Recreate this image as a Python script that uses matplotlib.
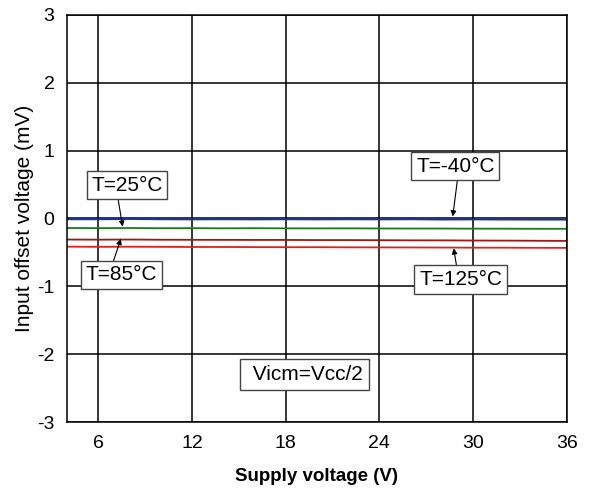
import matplotlib
matplotlib.use("Agg")
import matplotlib.pyplot as plt

plt.rcParams['font.family'] = ['Liberation Sans', 'DejaVu Sans']
plt.rcParams['axes.unicode_minus'] = False

supply_v = [4, 6, 8, 10, 12, 14, 16, 18, 20, 22, 24, 26, 28, 30, 32, 34, 36]
t_m40 = [-0.012, -0.012, -0.008, -0.012, -0.014, -0.012, -0.014, -0.012, -0.014, -0.012, -0.014, -0.012, -0.016, -0.014, -0.016, -0.017, -0.017]
t_25 = [-0.140, -0.142, -0.140, -0.143, -0.142, -0.145, -0.143, -0.145, -0.146, -0.145, -0.147, -0.148, -0.148, -0.150, -0.150, -0.152, -0.152]
t_85 = [-0.310, -0.312, -0.310, -0.313, -0.314, -0.315, -0.316, -0.316, -0.318, -0.318, -0.320, -0.322, -0.322, -0.325, -0.326, -0.328, -0.330]
t_125 = [-0.415, -0.418, -0.416, -0.418, -0.420, -0.420, -0.422, -0.423, -0.423, -0.425, -0.426, -0.427, -0.428, -0.430, -0.430, -0.432, -0.433]

x_ticks = [6, 12, 18, 24, 30, 36]
y_ticks = [-3, -2, -1, 0, 1, 2, 3]

fig = plt.figure(figsize=(5.91, 4.91), dpi=100)
ax = fig.add_axes([0.1134, 0.1405, 0.8456, 0.829])

ax.plot(supply_v, t_m40, color='#1030b8', lw=1.3)
ax.plot(supply_v, t_25, color='#1a7a1a', lw=1.3)
ax.plot(supply_v, t_85, color='#a01515', lw=1.3)
ax.plot(supply_v, t_125, color='#e02020', lw=1.3)

ax.set_xlim(4, 36)
ax.set_ylim(-3, 3)
ax.set_xticks(x_ticks)
ax.set_yticks(y_ticks)
ax.grid(True, color='black', lw=1.1)
ax.set_axisbelow(True)
for s in ax.spines.values():
    s.set_linewidth(1.1)
ax.tick_params(labelsize=14, length=0, pad=9)
ax.set_xlabel('Supply voltage (V)', fontsize=13.5, fontweight='bold', labelpad=12)
ax.set_ylabel('Input offset voltage (mV)', fontsize=15, labelpad=2)

bbox = dict(boxstyle='square,pad=0.22', fc='white', ec='#444444', lw=1)
arrow = dict(arrowstyle='-|>', color='black', lw=0.8, mutation_scale=8, shrinkA=0, shrinkB=0)

# arrows: (tip, origin)
ax.annotate('', xy=(7.56, -0.12), xytext=(7.26, 0.30), arrowprops=arrow)
ax.annotate('', xy=(7.45, -0.30), xytext=(6.94, -0.65), arrowprops=arrow)
ax.annotate('', xy=(28.7, 0.03), xytext=(29.0, 0.575), arrowprops=arrow)
ax.annotate('', xy=(28.76, -0.44), xytext=(28.95, -0.71), arrowprops=arrow)

ax.text(7.84, 0.49, 'T=25°C', fontsize=15, ha='center', va='center', bbox=bbox)
ax.text(7.49, -0.83, 'T=85°C', fontsize=15, ha='center', va='center', bbox=bbox)
ax.text(28.86, 0.77, 'T=-40°C', fontsize=15, ha='center', va='center', bbox=bbox)
ax.text(29.2, -0.90, 'T=125°C', fontsize=15, ha='center', va='center', bbox=bbox)
ax.text(19.2, -2.30, ' Vicm=Vcc/2', fontsize=15, ha='center', va='center',
        bbox=dict(boxstyle='square,pad=0.3', fc='white', ec='#444444', lw=1))

fig.savefig('out.png', dpi=100)
